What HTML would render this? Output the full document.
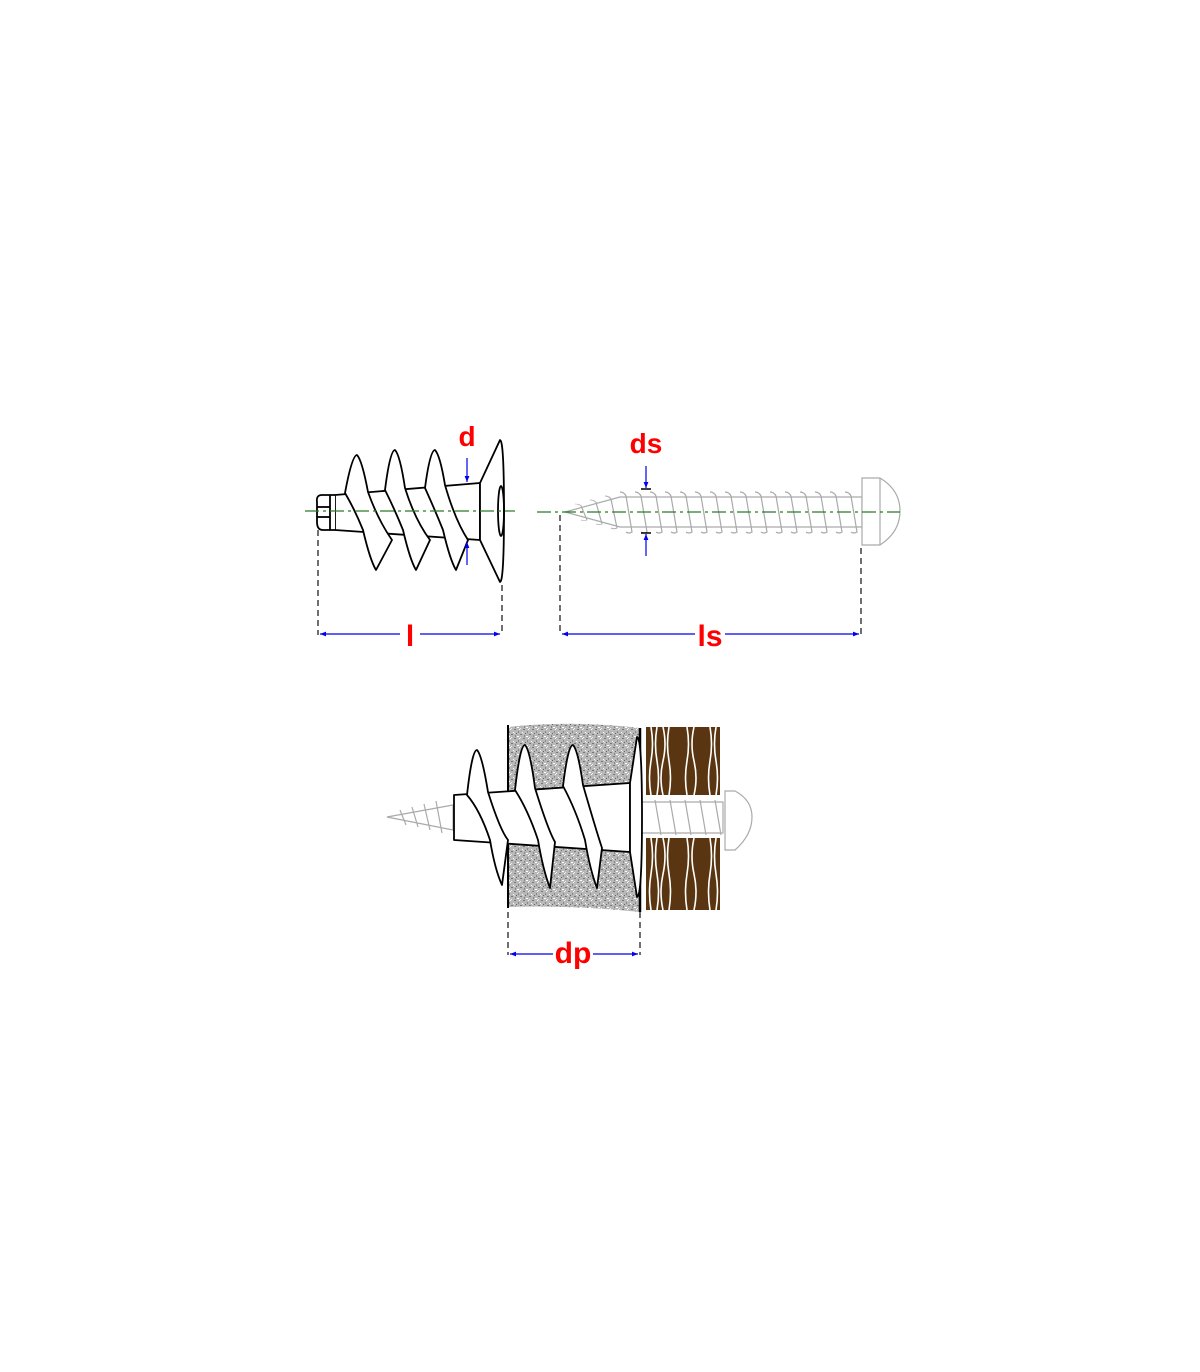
<!DOCTYPE html>
<html><head><meta charset="utf-8"><style>html,body{margin:0;padding:0;background:#fff}svg{display:block}</style></head>
<body>
<svg width="1200" height="1372" viewBox="0 0 1200 1372" xmlns="http://www.w3.org/2000/svg">
<defs>
<marker id="ah" viewBox="0 0 10 10" refX="10" refY="5" markerWidth="7" markerHeight="5" orient="auto-start-reverse"><path d="M0,1 L10,5 L0,9 z" fill="#0000ee"/></marker>
<pattern id="stip" width="9" height="9" patternUnits="userSpaceOnUse">
<rect width="9" height="9" fill="#b8b8b8"/>
<rect x="1" y="0" width="2" height="1" fill="#777"/><rect x="5" y="2" width="1" height="2" fill="#888"/><rect x="7" y="5" width="2" height="1" fill="#777"/><rect x="2" y="6" width="1" height="2" fill="#888"/><rect x="0" y="3" width="1" height="1" fill="#fff"/><rect x="4" y="7" width="2" height="1" fill="#fff"/><rect x="6" y="0" width="1" height="1" fill="#fff"/><rect x="3" y="4" width="1" height="1" fill="#666"/><rect x="7" y="8" width="1" height="1" fill="#eee"/><rect x="1" y="4" width="1" height="1" fill="#ddd"/>
</pattern>
<g id="st"><path d="M0,-20 q4,0 6,4 l6,36 q-3,2 -6,0" fill="none" stroke="#aaa" stroke-width="1.2"/></g>
</defs>

<!-- ===== top-left plug ===== -->
<g fill="#fff" stroke="#000" stroke-width="1.8" stroke-linejoin="round">
<path d="M335,495 L480,483 L480,540 L335,530 Z"/>
<path d="M335,495 L322,495 Q316,495 317,502 L317,522 Q317,530 323,530 L335,530"/>
<line x1="330" y1="495" x2="330" y2="530"/><line x1="317" y1="507" x2="330" y2="507"/><line x1="317" y1="517" x2="330" y2="517"/>
<path d="M345,493 Q352,455 357,455 Q362,460 368,492 Q378,520 392,540 L376,570 Q370,560 363,530 Q355,510 345,493 Z"/>
<path d="M385,490 Q390,450 395,450 Q400,455 405,488 Q415,520 430,540 L416,570 Q410,560 403,530 Q395,510 385,490 Z"/>
<path d="M425,488 Q430,450 435,450 Q440,455 445,485 Q455,520 468,540 L456,570 Q450,560 443,530 Q435,510 425,488 Z"/>
<path d="M480,483 L500,440 Q504,440 504,511 Q504,582 500,582 L480,540 Z"/>
<ellipse cx="501" cy="511" rx="3" ry="25" fill="none"/>
</g>
<line x1="305" y1="511" x2="515" y2="511" stroke="#2a7a2a" stroke-width="1.2" stroke-dasharray="14,4,3,4"/>
<line x1="467" y1="458" x2="467" y2="482" stroke="#0000ee" stroke-width="1.2" marker-end="url(#ah)"/>
<line x1="467" y1="565" x2="467" y2="542" stroke="#0000ee" stroke-width="1.2" marker-end="url(#ah)"/>
<text x="467" y="446" font-family="Liberation Sans Narrow, Liberation Sans, sans-serif" font-weight="bold" font-size="28" fill="#ff0000" text-anchor="middle">d</text>
<g stroke="#222" stroke-width="1.3" stroke-dasharray="6,4"><line x1="318" y1="530" x2="318" y2="635"/><line x1="502" y1="585" x2="502" y2="635"/></g>
<line x1="320" y1="634" x2="400" y2="634" stroke="#0000ee" stroke-width="1.2" marker-start="url(#ah)"/>
<line x1="420" y1="634" x2="500" y2="634" stroke="#0000ee" stroke-width="1.2" marker-end="url(#ah)"/>
<text x="410" y="646" font-family="Liberation Sans Narrow, Liberation Sans, sans-serif" font-weight="bold" font-size="30" fill="#ff0000" text-anchor="middle">l</text>

<!-- ===== screw ===== -->
<g fill="none" stroke="#aaa" stroke-width="1.2">
<path d="M565,512 L620,497 L862,497 L862,527 L620,527 Z" fill="#fff"/>
<path d="M862,478 L880,478 Q900,490 900,511 Q900,532 880,545 L862,545 Z" fill="#fff"/>
<line x1="880" y1="478" x2="880" y2="545"/>
</g>
<g transform="translate(0,512)">
<use href="#st" x="575" transform="scale(1,0.4)" transform-origin="575 0"/>
<use href="#st" x="590" transform="scale(1,0.6)" transform-origin="590 0"/>
<use href="#st" x="605" transform="scale(1,0.8)" transform-origin="605 0"/>
<use href="#st" x="620"/><use href="#st" x="635"/><use href="#st" x="650"/><use href="#st" x="665"/><use href="#st" x="680"/><use href="#st" x="695"/><use href="#st" x="710"/><use href="#st" x="725"/><use href="#st" x="740"/><use href="#st" x="755"/><use href="#st" x="770"/><use href="#st" x="785"/><use href="#st" x="800"/><use href="#st" x="815"/><use href="#st" x="830"/><use href="#st" x="845"/>
</g>
<line x1="537" y1="512" x2="900" y2="512" stroke="#2a7a2a" stroke-width="1.2" stroke-dasharray="14,4,3,4"/>
<line x1="646" y1="466" x2="646" y2="488" stroke="#0000ee" stroke-width="1.2" marker-end="url(#ah)"/>
<line x1="646" y1="556" x2="646" y2="534" stroke="#0000ee" stroke-width="1.2" marker-end="url(#ah)"/>
<line x1="641" y1="489" x2="651" y2="489" stroke="#000" stroke-width="1.5"/><line x1="641" y1="533" x2="651" y2="533" stroke="#000" stroke-width="1.5"/>
<text x="646" y="453" font-family="Liberation Sans Narrow, Liberation Sans, sans-serif" font-weight="bold" font-size="28" fill="#ff0000" text-anchor="middle">ds</text>
<g stroke="#222" stroke-width="1.3" stroke-dasharray="6,4"><line x1="560" y1="515" x2="560" y2="635"/><line x1="861" y1="548" x2="861" y2="635"/></g>
<line x1="562" y1="634" x2="695" y2="634" stroke="#0000ee" stroke-width="1.2" marker-start="url(#ah)"/>
<line x1="725" y1="634" x2="859" y2="634" stroke="#0000ee" stroke-width="1.2" marker-end="url(#ah)"/>
<text x="710" y="646" font-family="Liberation Sans Narrow, Liberation Sans, sans-serif" font-weight="bold" font-size="30" fill="#ff0000" text-anchor="middle">ls</text>

<!-- ===== assembly ===== -->
<path d="M508,727 Q570,720 640,728 L640,912 Q570,905 508,907 Z" fill="url(#stip)"/>
<line x1="508" y1="725" x2="508" y2="908" stroke="#000" stroke-width="2"/>
<line x1="640" y1="728" x2="640" y2="912" stroke="#000" stroke-width="2.5"/>
<g fill="#5a3511">
<rect x="646" y="727" width="74" height="68"/><rect x="646" y="838" width="74" height="72"/>
</g>
<g stroke="#fff" stroke-width="1.6" fill="none">
<path d="M651,727 q3,17 0,34 q-3,17 0,34 M657,727 q-3,17 0,34 q3,17 0,34 M663,727 q4,17 0,34 q-4,17 0,34 M669,727 q-3,17 0,34 q3,17 0,34 M687,727 q3,17 0,34 q-3,17 0,34 M694,727 q-4,17 0,34 q4,17 0,34 M710,727 q3,17 0,34 q-3,17 0,34 M716,727 q-3,17 0,34 q3,17 0,34"/>
<path d="M651,838 q3,18 0,36 q-3,18 0,36 M657,838 q-3,18 0,36 q3,18 0,36 M663,838 q4,18 0,36 q-4,18 0,36 M669,838 q-3,18 0,36 q3,18 0,36 M687,838 q3,18 0,36 q-3,18 0,36 M694,838 q-4,18 0,36 q4,18 0,36 M710,838 q3,18 0,36 q-3,18 0,36 M716,838 q-3,18 0,36 q3,18 0,36"/>
</g>
<rect x="646" y="795" width="74" height="43" fill="#fff"/>
<g fill="#fff" stroke="#aaa" stroke-width="1.2">
<path d="M640,802 L723,802 L723,833 L640,833 Z"/>
<path d="M725,791 L735,791 Q752,800 752,817 Q752,835 735,850 L725,850 Z"/>
</g>
<g stroke="#aaa" stroke-width="1.2" fill="none">
<path d="M655,800 l6,35 M670,800 l6,35 M685,800 l6,35 M700,800 l6,35 M715,800 l6,35"/>
<path d="M387,817 L453,805 L453,830 Z M400,810 l6,15 M412,807 l6,20 M424,804 l6,26 M436,801 l6,32"/>
</g>
<g fill="#fff" stroke="#000" stroke-width="1.8" stroke-linejoin="round">
<path d="M454,795 L630,783 L630,852 L454,840 Z"/>
<path d="M467,795 Q472,750 477,750 Q482,755 488,792 Q500,830 508,840 L502,885 Q495,870 490,840 Q480,810 467,795 Z"/>
<path d="M515,790 Q520,745 525,745 Q530,750 535,788 Q548,830 555,842 L550,888 Q543,870 538,840 Q528,810 515,790 Z"/>
<path d="M563,786 Q568,745 573,745 Q578,750 583,785 Q596,830 602,848 L597,888 Q590,870 585,840 Q576,810 563,786 Z"/>
<path d="M630,783 L637,737 Q642,737 642,817 Q642,897 637,897 L630,852 Z"/>
</g>
<g stroke="#222" stroke-width="1.3" stroke-dasharray="6,4"><line x1="508" y1="912" x2="508" y2="955"/><line x1="640" y1="912" x2="640" y2="955"/></g>
<line x1="510" y1="954" x2="553" y2="954" stroke="#0000ee" stroke-width="1.2" marker-start="url(#ah)"/>
<line x1="593" y1="954" x2="638" y2="954" stroke="#0000ee" stroke-width="1.2" marker-end="url(#ah)"/>
<text x="573" y="963" font-family="Liberation Sans Narrow, Liberation Sans, sans-serif" font-weight="bold" font-size="30" fill="#ff0000" text-anchor="middle">dp</text>
</svg>
</body></html>
